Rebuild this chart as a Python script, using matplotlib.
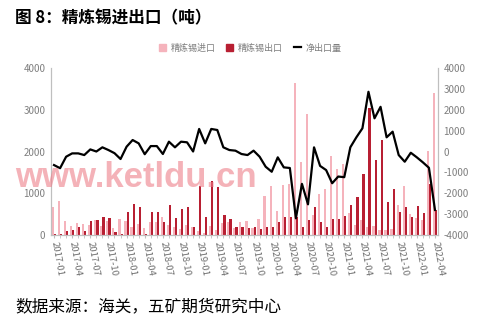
import numpy as np
import matplotlib
matplotlib.use("Agg")
from matplotlib import pyplot as plt
from matplotlib.patches import Patch
from matplotlib.lines import Line2D

plt.rcParams['font.family'] = ['Noto Sans CJK SC', 'DejaVu Sans']
plt.rcParams['axes.unicode_minus'] = False

# 月份 2017-01 ~ 2022-04
meses = [f"{a}-{m:02d}" for a in range(2017, 2023) for m in range(1, 13)][:64]

importacao = [660, 820, 330, 210, 290, 270, 235, 360, 220, 330,
              160, 380, 330, 200, 270, 160, 300, 300, 440, 250,
              200, 150, 240, 180, 90, 50, 220, 130, 280, 305,
              160, 320, 330, 160, 385, 930, 1170, 580, 1200, 1230,
              3650, 1750, 2890, 480, 990, 1090, 1900, 1580, 1690, 530,
              240, 350, 190, 210, 130, 120, 140, 730, 1170, 500,
              400, 350, 2020, 3400]

exportacao = [20, 20, 100, 120, 200, 100, 335, 360, 420, 400,
              80, 20, 560, 750, 660, 30, 560, 560, 320, 720,
              400, 620, 680, 180, 1170, 440, 1300, 1160, 480, 375,
              200, 200, 160, 200, 135, 200, 200, 300, 440, 440,
              440, 200, 360, 680, 300, 200, 375, 380, 460, 730,
              920, 1460, 3050, 1800, 2270, 800, 1090, 560, 680, 420,
              700, 520, 1220, 600]

liquido = [-650, -800, -250, -90, -90, -170, 100, 0, 200, 70,
           -80, -360, 230, 550, 390, -130, 260, 260, -120, 470,
           200, 470, 440, 0, 1080, 390, 1080, 1030, 200, 70,
           40, -120, -170, 40, -250, -730, -970, -280, -760, -790,
           -3200, -1550, -2530, 200, -690, -890, -1520, -1200, -1230, 200,
           680, 1110, 2860, 1590, 2140, 680, 950, -170, -490, -60,
           -280, -520, -780, -2800]

cor_imp = '#F5B3BC'
cor_exp = '#B81F32'
cinza = '#7F7F7F'

fig = plt.figure(figsize=(4.81, 3.25), dpi=100)
ax = fig.add_axes([51/481, 1-235/325, 387/481, 167/325])
ax2 = ax.twinx()

x = np.arange(len(meses))
w = 0.36
ax.bar(x - w/2, importacao, width=w, color=cor_imp, zorder=2)
ax.bar(x + w/2, exportacao, width=w, color=cor_exp, zorder=2)
ax2.plot(x, liquido, color='black', lw=1.6, zorder=3)

ax.set_xlim(-0.5, len(meses) - 0.5)
ax.set_ylim(0, 4000)
ax2.set_ylim(-4000, 4000)
ax.set_yticks(range(0, 4001, 1000))
ax2.set_yticks(range(-4000, 4001, 1000))

ax.set_xticks(x[::3])
ax.set_xticklabels(meses[::3], rotation=-80, ha='left', va='center',
                   rotation_mode='anchor', fontsize=6.8, color='#707070')
ax.set_xticks(x, minor=True)
ax.tick_params(axis='x', which='both', length=2, color='#BFBFBF', pad=3)
ax.tick_params(axis='y', length=0, labelsize=7, colors=cinza, pad=4)
ax2.tick_params(axis='y', length=0, labelsize=7, colors=cinza, pad=4)

for a in (ax, ax2):
    a.spines['top'].set_visible(False)
    for s in ('left', 'right', 'bottom'):
        a.spines[s].set_color('#BFBFBF')
        a.spines[s].set_linewidth(0.8)

handles = [Patch(color=cor_imp), Patch(color=cor_exp), Line2D([], [], color='black', lw=1.6)]
fig.legend(handles, ['精炼锡进口', '精炼锡出口', '净出口量'], loc='center',
           bbox_to_anchor=(250/481, 1-48/325), ncol=3, frameon=False,
           fontsize=6.5, labelcolor=cinza, handlelength=0.8, handleheight=0.8,
           columnspacing=1.2, handletextpad=0.5)

fig.text(15/481, 1-18/325, '图 8：精炼锡进出口（吨）', fontsize=12, fontweight='bold',
         va='center', ha='left')
fig.text(15/481, 1-307/325, '数据来源：海关，五矿期货研究中心', fontsize=12,
         va='center', ha='left')
# marca d'água
fig.text(15/481, 1-187/325, 'www.ketldu.cn', fontsize=25, fontweight='bold',
         family='Liberation Sans', color='#EE7F8A', alpha=0.6,
         va='baseline', ha='left')

plt.savefig("out.png", dpi=100)
